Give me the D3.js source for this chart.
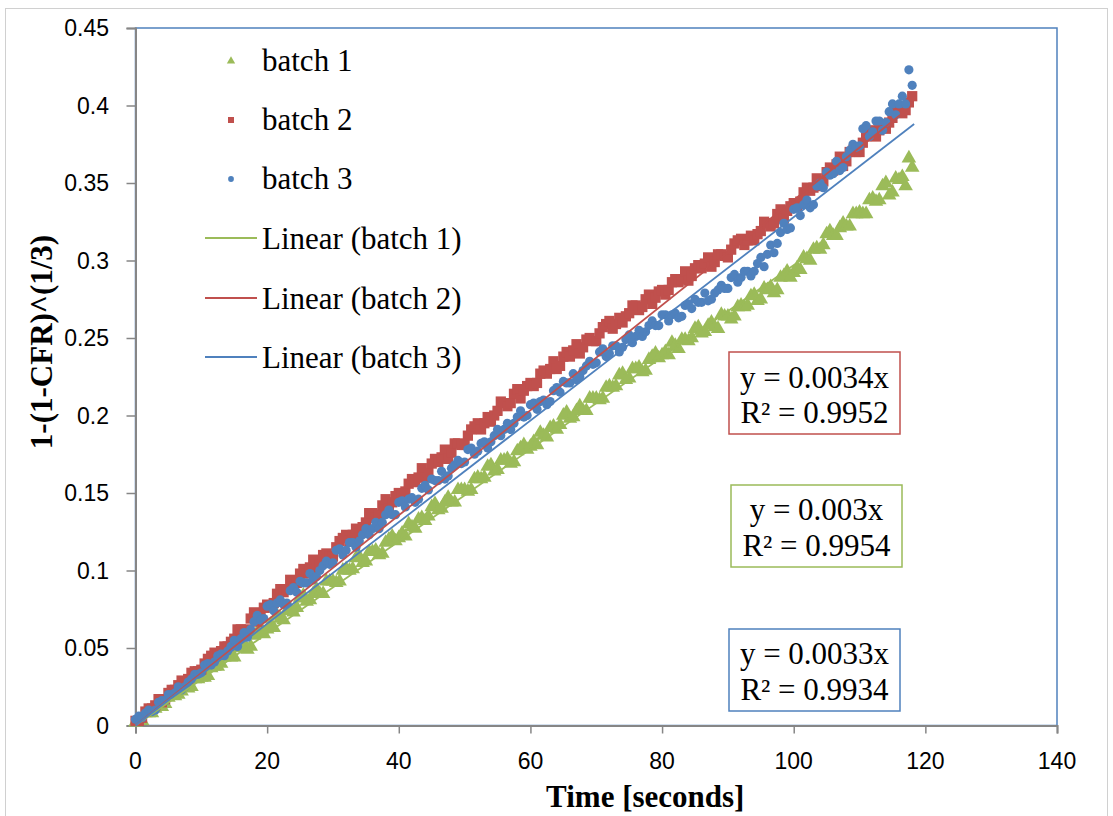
<!DOCTYPE html>
<html>
<head>
<meta charset="utf-8">
<script src="https://cdn.jsdelivr.net/npm/d3@7/dist/d3.min.js"></script>
<style>
  html, body { margin: 0; padding: 0; background: #ffffff; }
  svg { display: block; }
  .ticklab { font-family: 'Liberation Sans', Arial, sans-serif; font-size: 23px; fill: #000; }
</style>
</head>
<body>
<svg id="chart" width="1113" height="816"></svg>
<script>
// ---------------- DATA ----------------
const seriesNames = ["batch 1", "batch 2", "batch 3"];
const trendNames = ["Linear (batch 1)", "Linear (batch 2)", "Linear (batch 3)"];
// readings: on each whole second and on each half second
const time = d3.range(0, 119);          // 0,1,...,118 s
const timeHalf = d3.range(0.5, 118, 1); // 0.5,1.5,...,117.5 s
const batch1 = [
  0.002,0.003,0.008,0.011,0.012,0.018,0.019,0.022,0.024,0.030,
  0.031,0.032,0.038,0.040,0.045,0.044,0.050,0.049,0.058,0.063,
  0.062,0.063,0.069,0.074,0.073,0.082,0.080,0.085,0.085,0.093,
  0.093,0.093,0.101,0.101,0.109,0.106,0.112,0.110,0.118,0.122,
  0.121,0.122,0.128,0.133,0.132,0.141,0.139,0.144,0.144,0.152,
  0.152,0.152,0.160,0.160,0.168,0.165,0.171,0.169,0.177,0.181,
  0.180,0.181,0.187,0.192,0.191,0.200,0.198,0.203,0.203,0.211,
  0.211,0.211,0.219,0.219,0.227,0.224,0.230,0.228,0.236,0.240,
  0.239,0.239,0.245,0.249,0.248,0.256,0.253,0.258,0.257,0.265,
  0.264,0.264,0.271,0.271,0.278,0.275,0.281,0.279,0.289,0.293,
  0.292,0.294,0.301,0.307,0.307,0.317,0.316,0.321,0.322,0.330,
  0.331,0.330,0.340,0.339,0.350,0.344,0.352,0.348,0.360
];
const batch1Half = [
  0.003,0.008,0.008,0.012,0.014,0.020,0.020,0.025,0.025,0.030,
  0.031,0.037,0.038,0.044,0.044,0.051,0.052,0.051,0.060,0.059,
  0.065,0.071,0.068,0.075,0.076,0.084,0.081,0.088,0.085,0.093,
  0.092,0.100,0.100,0.108,0.105,0.112,0.113,0.111,0.120,0.119,
  0.124,0.130,0.127,0.134,0.135,0.143,0.140,0.147,0.144,0.152,
  0.151,0.159,0.159,0.167,0.164,0.171,0.172,0.170,0.179,0.178,
  0.183,0.189,0.186,0.193,0.194,0.202,0.199,0.206,0.203,0.211,
  0.210,0.218,0.218,0.226,0.223,0.230,0.231,0.229,0.238,0.237,
  0.241,0.247,0.243,0.249,0.250,0.257,0.254,0.260,0.256,0.264,
  0.262,0.270,0.270,0.277,0.274,0.282,0.283,0.281,0.290,0.289,
  0.295,0.302,0.300,0.308,0.310,0.319,0.316,0.324,0.322,0.330,
  0.330,0.339,0.338,0.348,0.342,0.353,0.354,0.366
];
const batch2 = [
  0.003,0.005,0.011,0.013,0.015,0.021,0.023,0.029,0.030,0.035,
  0.036,0.043,0.047,0.048,0.051,0.056,0.062,0.062,0.073,0.072,
  0.078,0.079,0.088,0.088,0.089,0.098,0.098,0.107,0.104,0.111,
  0.109,0.119,0.123,0.123,0.124,0.131,0.137,0.136,0.146,0.144,
  0.150,0.151,0.159,0.160,0.160,0.169,0.170,0.178,0.176,0.182,
  0.181,0.191,0.195,0.195,0.196,0.203,0.208,0.208,0.217,0.216,
  0.221,0.221,0.229,0.230,0.230,0.238,0.238,0.246,0.244,0.250,
  0.248,0.257,0.261,0.259,0.260,0.266,0.271,0.270,0.278,0.276,
  0.281,0.281,0.288,0.288,0.287,0.295,0.295,0.302,0.299,0.304,
  0.302,0.311,0.314,0.313,0.313,0.319,0.324,0.324,0.333,0.332,
  0.337,0.338,0.347,0.347,0.348,0.357,0.358,0.367,0.364,0.371,
  0.370,0.380,0.384,0.384,0.385,0.392,0.397,0.397,0.406
];
const batch2Half = [
  0.003,0.009,0.011,0.017,0.017,0.023,0.026,0.027,0.034,0.035,
  0.040,0.045,0.046,0.051,0.054,0.062,0.060,0.069,0.067,0.076,
  0.076,0.085,0.086,0.094,0.092,0.101,0.102,0.101,0.110,0.109,
  0.115,0.121,0.119,0.127,0.128,0.137,0.134,0.142,0.140,0.148,
  0.148,0.156,0.157,0.166,0.163,0.172,0.173,0.172,0.182,0.181,
  0.187,0.193,0.191,0.199,0.200,0.209,0.206,0.214,0.211,0.219,
  0.219,0.227,0.227,0.235,0.232,0.241,0.242,0.240,0.249,0.248,
  0.253,0.259,0.256,0.263,0.264,0.271,0.268,0.275,0.272,0.280,
  0.278,0.286,0.286,0.293,0.290,0.297,0.298,0.296,0.304,0.303,
  0.307,0.313,0.310,0.316,0.317,0.325,0.322,0.330,0.327,0.335,
  0.335,0.344,0.345,0.353,0.351,0.360,0.362,0.361,0.370,0.370,
  0.376,0.382,0.380,0.388,0.389,0.398,0.395,0.402
];
const batch3 = [
  0.004,0.005,0.010,0.010,0.016,0.020,0.021,0.023,0.028,0.033,
  0.034,0.040,0.041,0.046,0.048,0.055,0.056,0.057,0.067,0.068,
  0.077,0.074,0.081,0.079,0.089,0.093,0.092,0.094,0.100,0.106,
  0.105,0.114,0.113,0.118,0.119,0.127,0.127,0.127,0.136,0.136,
  0.144,0.141,0.147,0.146,0.155,0.159,0.158,0.159,0.166,0.171,
  0.170,0.179,0.177,0.183,0.183,0.191,0.191,0.191,0.199,0.199,
  0.207,0.204,0.210,0.209,0.218,0.222,0.221,0.223,0.229,0.235,
  0.234,0.243,0.240,0.245,0.244,0.252,0.251,0.251,0.258,0.258,
  0.265,0.261,0.266,0.264,0.272,0.275,0.273,0.274,0.279,0.284,
  0.282,0.291,0.289,0.293,0.293,0.302,0.304,0.305,0.318,0.320,
  0.333,0.329,0.339,0.336,0.350,0.357,0.356,0.358,0.367,0.375,
  0.374,0.387,0.383,0.390,0.389,0.401,0.401,0.401,0.413
];
const batch3Half = [
  0.006,0.008,0.009,0.015,0.016,0.020,0.025,0.025,0.030,0.033,
  0.039,0.039,0.045,0.045,0.051,0.051,0.060,0.062,0.071,0.069,
  0.078,0.079,0.078,0.087,0.086,0.092,0.098,0.096,0.103,0.104,
  0.113,0.110,0.118,0.115,0.123,0.123,0.131,0.131,0.139,0.136,
  0.145,0.146,0.144,0.153,0.152,0.158,0.164,0.161,0.168,0.169,
  0.178,0.175,0.182,0.179,0.187,0.187,0.195,0.195,0.203,0.200,
  0.208,0.209,0.207,0.216,0.215,0.221,0.227,0.225,0.232,0.233,
  0.241,0.238,0.245,0.241,0.249,0.247,0.255,0.254,0.261,0.258,
  0.265,0.265,0.263,0.271,0.269,0.273,0.279,0.275,0.281,0.282,
  0.289,0.286,0.293,0.290,0.298,0.296,0.310,0.311,0.324,0.321,
  0.334,0.336,0.334,0.348,0.347,0.355,0.364,0.360,0.371,0.373,
  0.385,0.380,0.390,0.384,0.396,0.394,0.406,0.423
];
// linear trendlines through the origin (slope, last x drawn)
const trendSlopes = [0.00297, 0.00339, 0.00328];
const trendEnds = [105, 117, 118.3];
const eqLines = [["y = 0.003x", "R² = 0.9954"], ["y = 0.0034x", "R² = 0.9952"], ["y = 0.0033x", "R² = 0.9934"]];
const xTicks = [0, 20, 40, 60, 80, 100, 120, 140];
const yTicks = [0, 0.05, 0.1, 0.15, 0.2, 0.25, 0.3, 0.35, 0.4, 0.45];
const xTitle = "Time [seconds]";
const yTitle = "1-(1-CFR)^(1/3)";

// ---------------- STYLE ----------------
const colors = ["#9bbb59", "#c0504d", "#4f81bd"];
const svg = d3.select("#chart");
const W = 1113, H = 816;
const L = 135.5, R = 1057, T = 28, B = 725.5;

svg.append("rect").attr("width", W).attr("height", H).attr("fill", "#fff");
// outer chart border
svg.append("rect").attr("x", 5.5).attr("y", 8.5).attr("width", 1102).attr("height", 830)
  .attr("fill", "none").attr("stroke", "#d0d0d0").attr("stroke-width", 1);

const x = d3.scaleLinear().domain([0, 140]).range([L, R]);
const y = d3.scaleLinear().domain([0, 0.45]).range([B, T]);

// plot area border (blue)
svg.append("rect").attr("x", L).attr("y", T).attr("width", R - L).attr("height", B - T)
  .attr("fill", "none").attr("stroke", "#4f81bd").attr("stroke-width", 1.5);

// axes (lines + ticks via d3 axis, labels drawn with own class)
const xAxis = svg.append("g").attr("transform", `translate(0,${B})`)
  .call(d3.axisBottom(x).tickValues(xTicks).tickSize(8).tickFormat(""));
const yAxis = svg.append("g").attr("transform", `translate(${L},0)`)
  .call(d3.axisLeft(y).tickValues(yTicks).tickSize(9).tickFormat(""));
[xAxis, yAxis].forEach(g => {
  g.select(".domain").attr("stroke", "#868686").attr("stroke-width", 2);
  g.selectAll(".tick line").attr("stroke", "#868686").attr("stroke-width", 1.5);
});
svg.append("g").selectAll("text").data(xTicks).join("text")
  .attr("class", "ticklab").attr("x", d => x(d)).attr("y", 769).attr("text-anchor", "middle")
  .text(d3.format("d"));
svg.append("g").selectAll("text").data(yTicks).join("text")
  .attr("class", "ticklab").attr("x", 109).attr("y", d => y(d) + 8).attr("text-anchor", "end")
  .text(d => d === 0 ? "0" : String(+d.toFixed(2)));

// markers
const series = [
  [batch1, batch1Half],
  [batch2, batch2Half],
  [batch3, batch3Half]
];
const sym = [d3.symbolTriangle, d3.symbolSquare, d3.symbolCircle];
const symSize = [92, 105, 66];
const plot = svg.append("g");
series.forEach((pair, i) => {
  const pts = [];
  pair[0].forEach((v, k) => pts.push([time[k], v]));
  pair[1].forEach((v, k) => pts.push([timeHalf[k], v]));
  pts.sort((a, b) => a[0] - b[0]);
  const gen = d3.symbol().type(sym[i]).size(symSize[i]);
  plot.append("g").selectAll("path").data(pts).join("path")
    .attr("d", gen)
    .attr("transform", d => `translate(${x(d[0])},${y(d[1])})`)
    .attr("fill", colors[i]);
});

// trendlines
trendSlopes.forEach((s, i) => {
  plot.append("line")
    .attr("x1", x(0)).attr("y1", y(0))
    .attr("x2", x(trendEnds[i])).attr("y2", y(s * trendEnds[i]))
    .attr("stroke", colors[i]).attr("stroke-width", 1.8);
});

// equation boxes
const serif = "'Liberation Serif', 'Times New Roman', serif";
const boxes = [
  {i: 1, x0: 729, y0: 352, b1: 388, b2: 423},
  {i: 0, x0: 731, y0: 485, b1: 520, b2: 556},
  {i: 2, x0: 729, y0: 629, b1: 664, b2: 700}
];
boxes.forEach(bx => {
  svg.append("rect").attr("x", bx.x0).attr("y", bx.y0).attr("width", 171).attr("height", 82)
    .attr("fill", "#fff").attr("stroke", colors[bx.i]).attr("stroke-width", 1.5);
  [bx.b1, bx.b2].forEach((bl, j) => {
    svg.append("text").attr("x", bx.x0 + 85.5).attr("y", bl).attr("text-anchor", "middle")
      .style("font-family", serif).style("font-size", "31px").attr("fill", "#000")
      .text(eqLines[bx.i][j]);
  });
});

// legend
const legY = [61, 120, 179, 238, 298, 357];
seriesNames.forEach((n, i) => {
  const gen = d3.symbol().type(sym[i]).size([30, 36, 26][i]);
  svg.append("path").attr("d", gen).attr("transform", `translate(231,${legY[i]})`).attr("fill", colors[i]);
  svg.append("text").attr("x", 262).attr("y", legY[i] + 10).style("font-family", serif)
    .style("font-size", "31px").text(n);
});
trendNames.forEach((n, i) => {
  const yy = legY[i + 3];
  svg.append("line").attr("x1", 205).attr("x2", 257).attr("y1", yy).attr("y2", yy)
    .attr("stroke", colors[i]).attr("stroke-width", 1.8);
  svg.append("text").attr("x", 262).attr("y", yy + 11).style("font-family", serif)
    .style("font-size", "31px").text(n);
});

// axis titles
svg.append("text").attr("x", (L + R) / 2 + 49).attr("y", 807).attr("text-anchor", "middle")
  .style("font-family", serif).style("font-size", "31px").style("font-weight", "bold").text(xTitle);
svg.append("text").attr("transform", "translate(52,342) rotate(-90)").attr("text-anchor", "middle")
  .style("font-family", serif).style("font-size", "31px").style("font-weight", "bold").text(yTitle);
</script>
</body>
</html>
